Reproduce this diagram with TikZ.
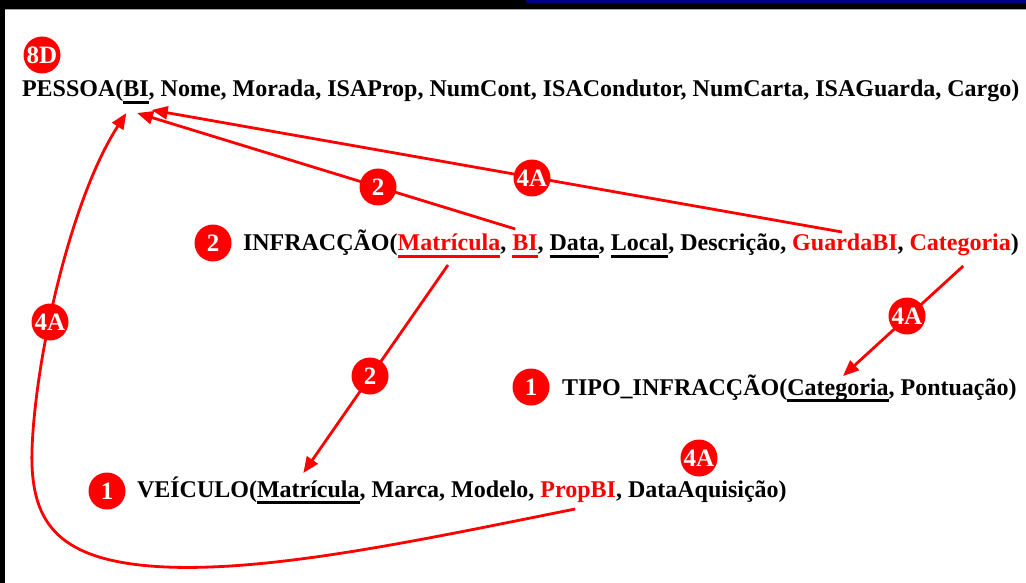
\documentclass[tikz,border=0pt]{standalone}
\usepackage{fontspec}
\setmainfont{Liberation Serif}
\usetikzlibrary{arrows.meta,calc}
\definecolor{navy}{RGB}{0,0,128}
\definecolor{keyred}{RGB}{255,0,0}
% underlined key attribute with a thick rule in the current colour
\newcommand\keyfield[1]{\setbox0\hbox{#1}\rlap{\vrule width\wd0 height -4pt depth 6.8pt}\box0}
% a separator that keeps its trailing space inside a node
\newcommand\sep{,\ \mbox{}}
\begin{document}
\begin{tikzpicture}[x=1pt,y=-1pt,
  font=\bfseries\fontsize{24}{28}\selectfont,
  txt/.style={inner sep=0pt, outer sep=0pt, anchor=base west},
  badge/.style={circle, fill=keyred, text=white, inner sep=0pt, minimum size=37pt,
    font=\bfseries\fontsize{25}{25}\selectfont},
  link/.style={keyred, line width=2.8pt, -{Triangle[length=16pt,width=13pt]}}]
\useasboundingbox (0,0) rectangle (1026,583);
\fill[white] (0,0) rectangle (1026,583);
% window frame
\fill[black] (0,0) rectangle (1026,9);
\fill[navy] (526,0) rectangle (1026,3);
\fill[black] (0,0) rectangle (5,583);
\draw[gray!70, line width=1pt] (5,9.5) -- (1026,9.5);

% PESSOA
\node[txt] (p0) at (22,97) {PESSOA(};
\node[txt] (pBI) at (p0.base east) {\keyfield{BI}};
\node[txt] (p1) at (pBI.base east) {, Nome, Morada, ISAProp, NumCont, ISACondutor, NumCarta, ISAGuarda, Cargo)};

% INFRACÇÃO
\node[txt] (i0) at (243,251) {INFRACÇÃO(};
\node[txt, text=keyred] (iMat) at (i0.base east) {\keyfield{Matrícula}};
\node[txt] (i1) at (iMat.base east) {\sep};
\node[txt, text=keyred] (iBI) at (i1.base east) {\keyfield{BI}};
\node[txt] (i2) at (iBI.base east) {\sep};
\node[txt] (iData) at (i2.base east) {\keyfield{Data}};
\node[txt] (i3) at (iData.base east) {\sep};
\node[txt] (iLocal) at (i3.base east) {\keyfield{Local}};
\node[txt] (i4) at (iLocal.base east) {, Descrição\sep};
\node[txt, text=keyred] (iGuard) at (i4.base east) {GuardaBI};
\node[txt] (i5) at (iGuard.base east) {\sep};
\node[txt, text=keyred] (iCat) at (i5.base east) {Categoria};
\node[txt] (i6) at (iCat.base east) {)};

% TIPO_INFRACÇÃO
\node[txt] (t0) at (562,395) {TIPO\_INFRACÇÃO(};
\node[txt] (tCat) at (t0.base east) {\keyfield{Categoria}};
\node[txt] (t1) at (tCat.base east) {, Pontuação)};

% VEÍCULO
\node[txt] (v0) at (137,497) {VEÍCULO(};
\node[txt] (vMat) at (v0.base east) {\keyfield{Matrícula}};
\node[txt] (v1) at (vMat.base east) {, Marca, Modelo\sep};
\node[txt, text=keyred] (vProp) at (v1.base east) {PropBI};
\node[txt] (v2) at (vProp.base east) {, DataAquisição)};

% foreign keys
\draw[link] ($(iBI.base west)+(3,-22)$) -- ($(pBI.base)+(1,16)$);
\draw[link] ($(iGuard.base)+(-3,-19)$) -- ($(pBI.base east)+(3,13)$);
\draw[link] ($(iMat.base)+(-1,14)$) -- ($(vMat.base)+(-5,-24)$);
\draw[link] ($(iCat.base)+(3,15)$) -- ($(tCat.base)+(5,-19)$);
\draw[link] ($(vProp.base)+(-3,12)$)
  .. controls (420,540) and (260,575) .. (150,566)
  .. controls (55,558) and (30,520) .. (32,450)
  .. controls (35,360) and (70,200) .. ($(pBI.base west)+(3,16)$);

% badges
\node[badge] (b8D) at (42,55) {8D};
\node[badge] (bInf) at (213,243) {2};
\node[badge] (bTipo) at (531,387) {1};
\node[badge] (bVeic) at (107,491) {1};
\node[badge] (bProp) at (699,458) {4A};
\node[badge] (lBI) at (378,187) {2};
\node[badge] (lGuard) at (532,178) {4A};
\node[badge] (lMat) at (370,376) {2};
\node[badge] (lCat) at (907,316) {4A};
\node[badge] (lProp) at (50,322) {4A};
\end{tikzpicture}
\end{document}
